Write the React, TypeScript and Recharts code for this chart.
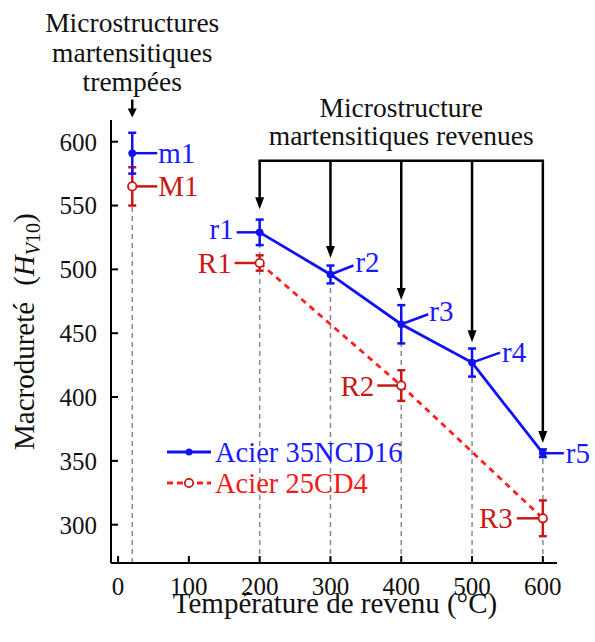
import React from 'react';
import {
  ComposedChart,
  Line,
  XAxis,
  YAxis,
  ErrorBar,
  ReferenceLine,
  ReferenceDot,
  Legend,
} from 'recharts';

const FONT = "'Liberation Serif', 'DejaVu Serif', serif";

// ---------------- data ----------------
const seriesNames = ['Acier 35NCD16', 'Acier 25CD4'];

const tempered35Temps = [200, 300, 400, 500, 600];
const tempered35Hardness = [529, 496, 457, 427, 356];
const tempered35Error = [10, 7, 15, 11, 3];
const tempered35Labels = ['r1', 'r2', 'r3', 'r4', 'r5'];

const tempered25Temps = [200, 400, 600];
const tempered25Hardness = [505, 409, 305];
const tempered25Error = [6, 12, 14];
const tempered25Labels = ['R1', 'R2', 'R3'];

const quenchTemps = [20];
const quench35Hardness = [591];
const quench35Error = [16];
const quench35Labels = ['m1'];
const quench25Hardness = [565];
const quench25Error = [15];
const quench25Labels = ['M1'];

const xTicks = [0, 100, 200, 300, 400, 500, 600];
const yTicks = [300, 350, 400, 450, 500, 550, 600];

const xTitle = 'Température de revenu (°C)';
const yTitle = 'Macrodureté';
const quenchNote = ['Microstructures', 'martensitiques', 'trempées'];
const revenuNote = ['Microstructure', 'martensitiques revenues'];
const quenchArrowLevels = [633, 619];
const bracketLevel = 585;
const revenuArrowTips = [547, 509, 476, 443, 364];

// ---------------- styles ----------------
const BLUE = '#1212ee';
const BLUE_TEXT = '#1a1aff';
const RED_LINE = '#ff2020';
const RED_DARK = '#c81818';
const RED_TEXT = '#ee1c1c';
const GREY = '#8a8a8a';
const TXT = { fontFamily: FONT } as React.CSSProperties;

type Pt = { x: number; y: number; err: number; label: string };
const build = (xs: number[], ys: number[], es: number[], ls: string[]): Pt[] =>
  xs.map((x, i) => ({ x, y: ys[i], err: es[i], label: ls[i] }));

const data35 = build(tempered35Temps, tempered35Hardness, tempered35Error, tempered35Labels);
const data25 = build(tempered25Temps, tempered25Hardness, tempered25Error, tempered25Labels);
const dataM35 = build(quenchTemps, quench35Hardness, quench35Error, quench35Labels);
const dataM25 = build(quenchTemps, quench25Hardness, quench25Error, quench25Labels);

const placement: Record<string, { lx: number; ly: number; tx: number; ty: number; anchor: string }> = {
  m1: { lx: 25, ly: 0, tx: 26, ty: 0, anchor: 'start' },
  M1: { lx: 25, ly: 0, tx: 26, ty: 0, anchor: 'start' },
  r1: { lx: -23, ly: 0, tx: -26, ty: -3, anchor: 'end' },
  R1: { lx: -25, ly: 0, tx: -28, ty: 0, anchor: 'end' },
  r2: { lx: 23, ly: -9, tx: 25, ty: -12, anchor: 'start' },
  r3: { lx: 27, ly: -10, tx: 28, ty: -13, anchor: 'start' },
  r4: { lx: 28, ly: -10, tx: 30, ty: -11, anchor: 'start' },
  r5: { lx: 21, ly: 0, tx: 23, ty: 0, anchor: 'start' },
  R2: { lx: -24, ly: 0, tx: -27, ty: 0, anchor: 'end' },
  R3: { lx: -26, ly: 0, tx: -30, ty: 0, anchor: 'end' },
};

const PointLabel = ({ cx, cy, name, lineColor, textColor }: any) => {
  const p = placement[name];
  if (cx == null || cy == null || !p) return null;
  return (
    <g>
      <line x1={cx} y1={cy} x2={cx + p.lx} y2={cy + p.ly} stroke={lineColor} strokeWidth={2.5} />
      <text
        x={cx + p.tx}
        y={cy + p.ty}
        textAnchor={p.anchor}
        dominantBaseline="central"
        style={TXT}
        fontSize={29}
        fill={textColor}
      >
        {name}
      </text>
    </g>
  );
};

const ArrowDown = ({ x1, y1, x2, y2, head = 12, half = 4.5 }: any) => {
  if (x1 == null) return null;
  return (
    <g>
      <line x1={x1} y1={y1} x2={x2} y2={y2 - head + 2} stroke="#000" strokeWidth={2.5} />
      <polygon points={`${x2 - half},${y2 - head} ${x2 + half},${y2 - head} ${x2},${y2}`} fill="#000" />
    </g>
  );
};

const QuenchArrow = (props: any) => {
  const { x1, y1 } = props;
  if (x1 == null) return null;
  const offs = [-68, -38, -9];
  return (
    <g>
      <ArrowDown {...props} head={9} half={4.5} />
      {quenchNote.map((t, i) => (
        <text key={t} x={x1} y={y1 + offs[i]} textAnchor="middle" style={TXT} fontSize={27.5} fill="#111">
          {t}
        </text>
      ))}
    </g>
  );
};

const Bracket = ({ x1, y1, x2 }: any) => {
  if (x1 == null) return null;
  const cx = (x1 + x2) / 2;
  const offs = [-44, -16];
  return (
    <g>
      <line x1={x1 - 1.2} y1={y1} x2={x2 + 1.2} y2={y1} stroke="#000" strokeWidth={2.5} />
      {revenuNote.map((t, i) => (
        <text key={t} x={cx} y={y1 + offs[i]} textAnchor="middle" style={TXT} fontSize={27.5} fill="#111">
          {t}
        </text>
      ))}
    </g>
  );
};

const XTitle = () => (
  <text x={335} y={613} textAnchor="middle" style={TXT} fontSize={29} fill="#111">
    {xTitle}
  </text>
);

const YTitle = () => {
  const x = 34;
  const y = 450;
  return (
    <text x={x} y={y} transform={`rotate(-90 ${x} ${y})`} textAnchor="start" style={TXT} fontSize={29} fill="#111">
      <tspan>{yTitle}</tspan>
      <tspan dx={16}>(</tspan>
      <tspan fontStyle="italic">H</tspan>
      <tspan fontStyle="italic" fontSize={20} dy={6}>V</tspan>
      <tspan fontSize={20}>10</tspan>
      <tspan dy={-6}>)</tspan>
    </text>
  );
};

const LegendContent = () => (
  <svg width={270} height={64} style={{ overflow: 'visible', display: 'block' }}>
    <g>
      <line x1={7} y1={16} x2={51} y2={16} stroke={BLUE} strokeWidth={2.8} />
      <circle cx={29} cy={16} r={3.5} fill={BLUE} />
      <text x={55} y={16} dominantBaseline="central" style={TXT} fontSize={28.5} fill={BLUE_TEXT}>
        {seriesNames[0]}
      </text>
    </g>
    <g>
      <line x1={7} y1={47} x2={51} y2={47} stroke={RED_LINE} strokeWidth={2.8} strokeDasharray="6 4" />
      <circle cx={29} cy={47} r={4.2} fill="#fff" stroke={RED_DARK} strokeWidth={1.8} />
      <text x={55} y={47} dominantBaseline="central" style={TXT} fontSize={28.5} fill={RED_TEXT}>
        {seriesNames[1]}
      </text>
    </g>
  </svg>
);

const dropLines = [
  { x: quenchTemps[0], top: quench35Hardness[0] + quench35Error[0] },
  ...data35.map((d) => ({ x: d.x, top: d.y })),
];

const tickStyle = { fontFamily: FONT, fontSize: 25, fill: '#111', style: TXT };

export default function App() {
  return (
    <div style={{ position: 'absolute', left: 0, top: 0, width: 595, height: 642, background: '#fff', fontFamily: FONT }}>
      <ComposedChart
        width={595}
        height={642}
        margin={{ top: 120, right: 38, bottom: 39, left: 0 }}
        style={{ fontFamily: FONT }}
      >
        <XAxis
          type="number"
          dataKey="x"
          domain={[-10, 620]}
          ticks={xTicks}
          allowDataOverflow
          height={40}
          tickSize={-7}
          tickMargin={21}
          axisLine={{ stroke: '#000', strokeWidth: 2 }}
          tickLine={{ stroke: '#000', strokeWidth: 2 }}
          tick={tickStyle}
          label={{ content: XTitle }}
        />
        <YAxis
          type="number"
          domain={[270, 617]}
          ticks={yTicks}
          allowDataOverflow
          width={111}
          tickSize={-7}
          tickMargin={21}
          axisLine={{ stroke: '#000', strokeWidth: 2 }}
          tickLine={{ stroke: '#000', strokeWidth: 2 }}
          tick={tickStyle}
          label={{ content: YTitle }}
        />

        {dropLines.map((d) => (
          <ReferenceLine
            key={`drop-${d.x}`}
            segment={[{ x: d.x, y: 270 }, { x: d.x, y: d.top }]}
            stroke={GREY}
            strokeWidth={1.5}
            strokeDasharray="5 4"
            ifOverflow="visible"
          />
        ))}

        <ReferenceLine
          segment={[{ x: quenchTemps[0], y: quenchArrowLevels[0] }, { x: quenchTemps[0], y: quenchArrowLevels[1] }]}
          ifOverflow="visible"
          shape={(p: any) => <QuenchArrow {...p} />}
        />
        <ReferenceLine
          segment={[{ x: tempered35Temps[0], y: bracketLevel }, { x: tempered35Temps[tempered35Temps.length - 1], y: bracketLevel }]}
          ifOverflow="visible"
          shape={(p: any) => <Bracket {...p} />}
        />
        {tempered35Temps.map((t, i) => (
          <ReferenceLine
            key={`arrow-${t}`}
            segment={[{ x: t, y: bracketLevel }, { x: t, y: revenuArrowTips[i] }]}
            ifOverflow="visible"
            shape={(p: any) => <ArrowDown {...p} />}
          />
        ))}

        <Line
          data={data25}
          dataKey="y"
          name={seriesNames[1]}
          stroke={RED_LINE}
          strokeWidth={2.8}
          strokeDasharray="6 5"
          dot={{ r: 4.2, fill: '#fff', stroke: RED_DARK, strokeWidth: 1.8, strokeDasharray: '0' }}
          activeDot={false}
          isAnimationActive={false}
        >
          <ErrorBar dataKey="err" direction="y" width={4} stroke={RED_DARK} strokeWidth={2.5} />
        </Line>
        <Line
          data={data35}
          dataKey="y"
          name={seriesNames[0]}
          stroke={BLUE}
          strokeWidth={2.8}
          dot={{ r: 3.5, fill: BLUE, stroke: BLUE, strokeWidth: 1 }}
          activeDot={false}
          isAnimationActive={false}
        >
          <ErrorBar dataKey="err" direction="y" width={4} stroke={BLUE} strokeWidth={2.5} />
        </Line>
        <Line
          data={dataM25}
          dataKey="y"
          name="M1"
          stroke="none"
          legendType="none"
          dot={{ r: 4.2, fill: '#fff', stroke: RED_DARK, strokeWidth: 1.8 }}
          activeDot={false}
          isAnimationActive={false}
        >
          <ErrorBar dataKey="err" direction="y" width={4} stroke={RED_DARK} strokeWidth={2.5} />
        </Line>
        <Line
          data={dataM35}
          dataKey="y"
          name="m1"
          stroke="none"
          legendType="none"
          dot={{ r: 3.5, fill: BLUE, stroke: BLUE, strokeWidth: 1 }}
          activeDot={false}
          isAnimationActive={false}
        >
          <ErrorBar dataKey="err" direction="y" width={4} stroke={BLUE} strokeWidth={2.5} />
        </Line>

        {[...dataM35, ...data35].map((d) => (
          <ReferenceDot
            key={`lab-${d.label}`}
            x={d.x}
            y={d.y}
            r={0}
            ifOverflow="visible"
            shape={(p: any) => <PointLabel cx={p.cx} cy={p.cy} name={d.label} lineColor={BLUE} textColor={BLUE_TEXT} />}
          />
        ))}
        {[...dataM25, ...data25].map((d) => (
          <ReferenceDot
            key={`lab-${d.label}`}
            x={d.x}
            y={d.y}
            r={0}
            ifOverflow="visible"
            shape={(p: any) => <PointLabel cx={p.cx} cy={p.cy} name={d.label} lineColor={RED_DARK} textColor={RED_DARK} />}
          />
        ))}

        <Legend
          layout="vertical"
          align="center"
          verticalAlign="middle"
          wrapperStyle={{ left: 160, top: 436, width: 270, height: 64 }}
          content={LegendContent}
        />
      </ComposedChart>
    </div>
  );
}
